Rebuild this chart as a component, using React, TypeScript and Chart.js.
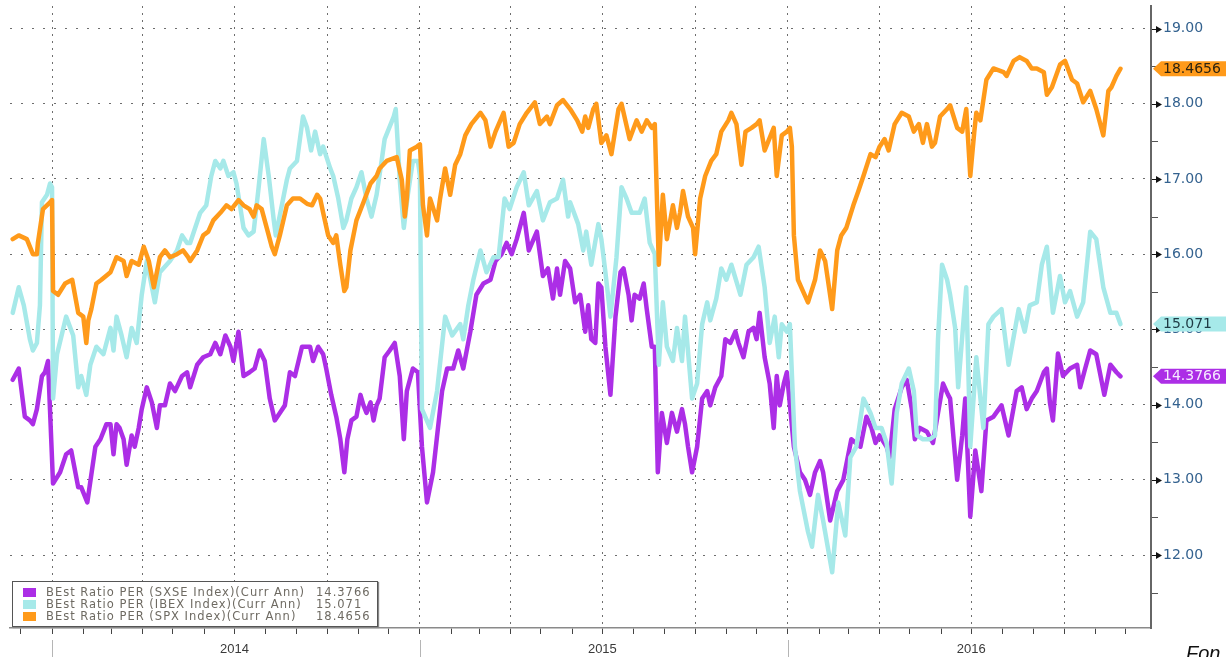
import React, { useEffect, useRef } from "react";
import { Chart, registerables } from "chart.js";

Chart.register(...registerables);

// ---- Data (x = days since 2014-01-01) ----
const spxDays = [
  -39, -33, -25, -19, -15, -14, -9, -2, 0, 1, 6, 13, 20, 26, 31, 34, 36, 39, 44, 49, 58, 64, 71, 74, 79, 86, 91, 96, 101, 107, 112, 117, 124, 130, 135,
  137, 144, 150, 155, 160, 167, 173, 178, 185, 190, 196, 200, 203, 208, 213, 218, 221, 226, 233, 239, 246, 253, 258, 263, 266, 269, 274, 279, 282, 286, 290, 292, 296, 302, 309, 316, 322,
  325, 332, 342, 347, 350, 352, 355, 362, 365, 368, 372, 375, 382, 385, 390, 395, 400, 405, 410, 416, 425, 430, 435, 440, 448, 453, 458, 464, 471, 479, 484, 491, 494, 501, 507,
  514, 521, 526, 529, 532, 537, 540, 545, 550, 555, 562, 565, 573, 580, 585, 590, 595, 598, 602, 606, 610, 616, 620, 623, 626, 631, 636, 638, 643, 648, 654, 659, 664, 671, 674, 679, 684, 688, 694, 699,
  702, 707, 716, 719, 724, 729, 732, 734, 736, 740, 745, 750, 757, 762, 767, 774, 779, 783, 788, 795, 800, 805, 812, 817, 821, 826, 830, 836, 843, 850, 855, 860, 864, 868, 873, 876, 881, 888,
  891, 898, 903, 907, 911, 915, 917, 921, 927, 934, 944, 947, 954, 960, 967, 972, 977, 984, 987, 992, 1000, 1005, 1012, 1017, 1023, 1030, 1036, 1043, 1048, 1051, 1056, 1060,
];
const spxValues = [
  16.2, 16.25, 16.2, 16.0, 16.0, 16.15, 16.6, 16.69, 16.72, 15.51, 15.46, 15.61, 15.66, 15.22, 15.17, 14.82, 15.12, 15.27, 15.61, 15.66, 15.76, 15.96, 15.91, 15.71, 15.91, 15.86, 16.1, 15.91, 15.56, 15.96, 16.05, 15.96, 16.0, 16.05, 15.96,
  15.91, 16.05, 16.25, 16.3, 16.45, 16.55, 16.65, 16.6, 16.72, 16.65, 16.6, 16.5, 16.65, 16.6, 16.35, 16.1, 16.0, 16.25, 16.65, 16.74, 16.74, 16.67, 16.65, 16.79, 16.74, 16.55, 16.25, 16.15, 16.25, 15.86, 15.51, 15.56, 16.05, 16.45, 16.69, 16.94, 17.04,
  17.14, 17.24, 17.29, 16.99, 16.5, 16.74, 17.38, 17.43, 17.46, 16.65, 16.25, 16.74, 16.45, 16.74, 17.14, 16.79, 17.19, 17.33, 17.58, 17.73, 17.88, 17.78, 17.43, 17.63, 17.88, 17.43, 17.48, 17.73, 17.88, 18.02, 17.73, 17.83, 17.73, 17.98, 18.05,
  17.93, 17.78, 17.63, 17.83, 17.68, 17.93, 18.0, 17.48, 17.58, 17.33, 17.93, 18.0, 17.53, 17.78, 17.63, 17.78, 17.68, 17.73, 15.86, 16.79, 16.2, 16.65, 16.35, 16.55, 16.84, 16.5, 16.35, 16.0, 16.74, 17.04, 17.24, 17.33, 17.63, 17.78, 17.88, 17.73, 17.19, 17.63, 17.68, 17.73,
  17.78, 17.38, 17.68, 17.04, 17.58, 17.63, 17.68, 17.43, 16.25, 15.66, 15.51, 15.36, 15.66, 16.05, 15.91, 15.27, 16.05, 16.25, 16.35, 16.65, 16.84, 17.04, 17.33, 17.29, 17.43, 17.53, 17.38, 17.73, 17.88, 17.83, 17.63, 17.73, 17.48, 17.73, 17.43, 17.48, 17.83, 17.93,
  17.98, 17.68, 17.63, 17.93, 17.04, 17.63, 17.88, 17.78, 18.32, 18.47, 18.42, 18.37, 18.57, 18.62, 18.57, 18.47, 18.47, 18.42, 18.12, 18.22, 18.52, 18.57, 18.32, 18.27, 18.02, 18.17, 17.93, 17.58, 18.17, 18.22, 18.37, 18.4656,
];

const ibexDays = [
  -39, -33, -28, -22, -19, -15, -12, -10, -5, -2, 0, 1, 5, 14, 21, 26, 29, 34, 38, 44, 51, 58, 61, 64, 69, 74, 79, 84, 89, 94, 102, 107, 117, 124, 129, 134,
  137, 147, 153, 158, 162, 167, 170, 175, 180, 183, 190, 195, 200, 205, 210, 215, 220, 222, 228, 233, 236, 243, 249, 253, 257, 261, 266, 269, 276, 279, 284, 289, 292, 297, 302, 307, 312, 317, 322, 327,
  330, 339, 341, 345, 349, 353, 358, 363, 365, 367, 375, 382, 390, 397, 405, 408, 413, 418, 425, 431, 438, 443, 449, 454, 461, 468, 473, 481, 487, 494, 501, 507, 512,
  514, 522, 527, 530, 535, 542, 545, 549, 554, 560, 565, 570, 575, 583, 588, 593, 598, 602, 606, 610, 616, 620, 625, 628, 635, 640, 645, 650, 653, 659, 664, 669, 674, 683, 689, 696, 701,
  707, 712, 717, 721, 724, 729, 732, 737, 742, 750, 754, 760, 765, 774, 780, 787, 792, 798, 805, 812, 817, 823, 828, 833, 838, 843, 850, 855, 858, 864, 871, 876, 879, 883, 888,
  891, 896, 899, 904, 907, 911, 917, 924, 929, 934, 942, 949, 959, 965, 970, 977, 982, 987, 993, 1000, 1005, 1010, 1017, 1023, 1030, 1036, 1043, 1050, 1056, 1060,
];
const ibexValues = [
  15.22, 15.56, 15.32, 14.87, 14.72, 14.82, 15.32, 16.69, 16.79, 16.94, 16.89, 14.08, 14.67, 15.17, 14.92, 14.23, 14.38, 14.13, 14.53, 14.77, 14.67, 15.02, 14.72, 15.17, 14.92, 14.63, 15.02, 14.82, 15.46, 15.91, 15.36, 15.76, 15.91, 16.05, 16.25, 16.15,
  16.15, 16.55, 16.65, 17.04, 17.24, 17.14, 17.24, 17.04, 17.09, 16.94, 16.35, 16.25, 16.3, 16.89, 17.53, 17.04, 16.45, 16.25, 16.65, 16.99, 17.14, 17.24, 17.83, 17.68, 17.38, 17.63, 17.33, 17.43, 17.14, 17.04, 16.74, 16.35, 16.45, 16.74, 16.89, 17.09, 16.74, 16.5, 16.79, 17.24,
  17.53, 17.83, 17.93, 16.99, 16.35, 16.79, 17.24, 17.24, 17.04, 13.94, 13.69, 14.18, 15.17, 14.92, 15.07, 14.87, 15.32, 15.66, 16.05, 15.76, 15.96, 15.96, 16.74, 16.6, 16.89, 17.09, 16.65, 16.84, 16.45, 16.69, 16.74, 16.99, 16.5,
  16.69, 16.4, 16.05, 16.3, 15.86, 16.4, 16.2, 15.76, 15.17, 15.96, 16.89, 16.74, 16.55, 16.55, 16.74, 16.15, 16.0, 14.53, 15.36, 14.77, 14.58, 15.02, 14.58, 15.17, 14.08, 14.28, 15.07, 15.36, 15.12, 15.41, 15.81, 15.66, 15.86, 15.46, 15.86, 15.96, 16.1,
  15.56, 14.82, 15.17, 14.63, 15.07, 14.97, 15.07, 13.44, 12.85, 12.31, 12.11, 12.8, 12.46, 11.77, 12.7, 12.26, 13.3, 13.44, 14.08, 13.89, 13.69, 13.69, 13.49, 12.95, 13.89, 14.28, 14.48, 14.18, 13.59, 13.54, 13.54, 13.59, 14.87, 15.86, 15.66,
  15.46, 15.02, 14.23, 15.07, 15.56, 13.44, 14.63, 13.69, 15.07, 15.17, 15.27, 14.53, 15.27, 14.97, 15.32, 15.36, 15.86, 16.1, 15.22, 15.71, 15.36, 15.51, 15.17, 15.36, 16.3, 16.2, 15.56, 15.22, 15.22, 15.071,
];

const sxseDays = [
  -39, -33, -27, -22, -19, -15, -10, -7, -4, 1, 8, 14, 19, 26, 29, 35, 43, 48, 54, 58, 61, 64, 67, 71, 74, 79, 82, 86, 89, 94, 99, 104, 107, 112, 117, 122, 129, 134,
  137, 144, 150, 157, 162, 167, 172, 177, 180, 185, 190, 196, 201, 206, 211, 216, 221, 226, 231, 236, 241, 248, 256, 259, 264, 269, 272, 277, 282, 286, 290, 293, 297, 302, 306, 309, 312, 316, 319, 322,
  325, 330, 335, 340, 345, 349, 352, 358, 363, 367, 372, 378, 387, 392, 398, 403, 408, 415, 421, 428, 435, 440, 446, 451, 456, 461, 468, 473, 481, 487, 492, 497, 501, 504, 509,
  514, 519, 524, 529, 532, 535, 539, 542, 545, 549, 554, 559, 564, 567, 572, 575, 578, 583, 587, 590, 595, 598, 601, 605, 610, 615, 620, 625, 628, 631, 635, 640, 645, 650, 653, 658, 664, 668, 673, 678, 681, 686, 691, 696, 699,
  702, 707, 712, 716, 719, 722, 726, 729, 736, 742, 747, 752, 757, 762, 765, 772, 779, 785, 793, 802, 808, 813, 817, 821, 828, 831, 836, 843, 848, 853, 856, 861, 868, 874, 879, 884, 889,
  891, 898, 903, 906, 911, 916, 922, 927, 934, 942, 949, 957, 962, 967, 972, 977, 984, 987, 990, 993, 998, 1003, 1010, 1017, 1020, 1025, 1030, 1036, 1044, 1050, 1056, 1060,
];
const sxseValues = [
  14.33, 14.48, 13.84, 13.79, 13.74, 13.94, 14.38, 14.43, 14.58, 12.95, 13.1, 13.34, 13.39, 12.9, 12.9, 12.7, 13.44, 13.54, 13.74, 13.74, 13.34, 13.74, 13.69, 13.54, 13.2, 13.59, 13.44, 13.69, 13.94, 14.23, 14.03, 13.69, 13.99, 13.99, 14.28, 14.18, 14.38, 14.43,
  14.23, 14.53, 14.63, 14.67, 14.82, 14.67, 14.92, 14.77, 14.58, 14.97, 14.38, 14.43, 14.48, 14.72, 14.58, 14.08, 13.79, 13.89, 13.99, 14.43, 14.38, 14.77, 14.77, 14.58, 14.77, 14.67, 14.48, 14.13, 13.84, 13.54, 13.1, 13.54, 13.79, 13.84, 14.13, 13.99, 13.89, 14.03, 13.79, 13.99,
  14.08, 14.63, 14.72, 14.82, 14.38, 13.54, 14.18, 14.48, 14.43, 13.44, 12.7, 13.1, 14.18, 14.48, 14.48, 14.72, 14.48, 14.97, 15.46, 15.61, 15.66, 15.91, 16.0, 16.15, 16.0, 16.2, 16.55, 16.05, 16.3, 15.71, 15.81, 15.41, 15.81, 15.46, 15.91,
  15.81, 15.36, 15.46, 14.97, 15.32, 14.87, 14.82, 15.61, 15.56, 14.77, 14.13, 15.17, 15.76, 15.81, 15.46, 15.12, 15.46, 15.41, 15.61, 15.27, 14.77, 14.77, 13.1, 13.89, 13.49, 13.89, 13.64, 13.94, 13.74, 13.44, 13.1, 13.44, 14.08, 14.18, 13.99, 14.23, 14.38, 14.87, 14.82, 14.97, 14.82, 14.63, 14.97, 15.02, 14.87,
  15.22, 14.63, 14.28, 13.69, 14.38, 13.99, 14.28, 14.43, 13.44, 13.1, 13.0, 12.8, 13.1, 13.25, 13.1, 12.46, 12.85, 13.0, 13.54, 13.44, 13.84, 13.69, 13.49, 13.59, 13.44, 13.3, 13.94, 14.23, 14.33, 13.94, 13.54, 13.69, 13.64, 13.49, 13.89, 14.28, 14.13,
  14.08, 13.0, 13.59, 14.08, 12.51, 13.39, 12.85, 13.79, 13.84, 13.99, 13.59, 14.18, 14.23, 13.94, 14.08, 14.18, 14.43, 14.48, 14.03, 13.79, 14.68, 14.38, 14.48, 14.53, 14.23, 14.48, 14.72, 14.67, 14.13, 14.53, 14.43, 14.3766,
];

const seriesNames = [
  "BEst Ratio PER (SXSE Index)(Curr Ann)",
  "BEst Ratio PER (IBEX Index)(Curr Ann)",
  "BEst Ratio PER (SPX Index)(Curr Ann)",
];
const lastLabels = ["14.3766", "15.071", "18.4656"];
const seriesColors = ["#AC2EE6", "#A6E9E9", "#FF9A1A"];
const tagTextColors = ["#F6EAFF", "#1E3A44", "#2E2410"];
const yearLabels = [2014, 2015, 2016];
const yTickValues = [11.5, 12, 12.5, 13, 13.5, 14, 14.5, 15, 15.5, 16, 16.5, 17, 17.5, 18, 18.5, 19];
const sourceText = "Fon";

const X_MIN = -41.7;
const X_MAX = 1090.3;
const Y_MIN = 11.03;
const Y_MAX = 19.3;

const BASE = Date.UTC(2014, 0, 1);
const dayOf = (y: number, m: number, d: number) => Math.round((Date.UTC(y, m, d) - BASE) / 864e5);
const dateOf = (v: number) => new Date(BASE + Math.round(v) * 864e5);

const monthTicks: number[] = [];
for (let y = 2013; y <= 2016; y++) {
  for (let m = 0; m < 12; m++) {
    const d = dayOf(y, m, 1);
    if (d >= X_MIN && d <= X_MAX) monthTicks.push(d);
  }
}

const toPoints = (days: number[], vals: number[]) =>
  days.map((d, i) => ({ x: d, y: vals[i] })).filter((p) => p.y !== undefined);

const decorPlugin = {
  id: "decor",
  afterDraw(chart: any) {
    const { ctx, chartArea, scales } = chart;
    const xs = scales.x;
    const ys = scales.y;
    ctx.save();
    // year separators below axis
    ctx.strokeStyle = "#b5b5b5";
    ctx.lineWidth = 1;
    for (const yr of yearLabels) {
      const px = Math.round(xs.getPixelForValue(dayOf(yr, 0, 1))) + 0.5;
      ctx.beginPath();
      ctx.moveTo(px, chartArea.bottom + 12);
      ctx.lineTo(px, chart.height);
      ctx.stroke();
    }
    // y tick markers
    const ax = chartArea.right + 1;
    for (const v of yTickValues) {
      const py = Math.round(ys.getPixelForValue(v)) + 0.5;
      if (Number.isInteger(v)) {
        ctx.strokeStyle = "#111";
        ctx.lineWidth = 1;
        ctx.beginPath();
        ctx.moveTo(ax, py);
        ctx.lineTo(ax + 5, py);
        ctx.stroke();
        ctx.fillStyle = "#111";
        ctx.beginPath();
        ctx.moveTo(ax + 4, py - 3.5);
        ctx.lineTo(ax + 10, py);
        ctx.lineTo(ax + 4, py + 3.5);
        ctx.closePath();
        ctx.fill();
      } else {
        ctx.strokeStyle = "#555";
        ctx.lineWidth = 1;
        ctx.beginPath();
        ctx.moveTo(ax, py);
        ctx.lineTo(ax + 6, py);
        ctx.stroke();
      }
    }
    // last value tags
    const lastVals = [sxseValues[sxseValues.length - 1], ibexValues[ibexValues.length - 1], spxValues[spxValues.length - 1]];
    ctx.font = "14px 'DejaVu Sans'";
    ctx.textBaseline = "middle";
    ctx.textAlign = "left";
    lastVals.forEach((v, i) => {
      const py = ys.getPixelForValue(v);
      const h = 7.5;
      ctx.fillStyle = seriesColors[i];
      ctx.beginPath();
      ctx.moveTo(ax + 1, py);
      ctx.lineTo(ax + 9, py - h);
      ctx.lineTo(chart.width, py - h);
      ctx.lineTo(chart.width, py + h);
      ctx.lineTo(ax + 9, py + h);
      ctx.closePath();
      ctx.fill();
      ctx.fillStyle = tagTextColors[i];
      ctx.fillText(lastLabels[i], ax + 11, py + 0.5);
    });
    ctx.restore();
  },
};

export default function App() {
  const canvasRef = useRef<HTMLCanvasElement | null>(null);

  useEffect(() => {
    if (!canvasRef.current) return;
    const chart = new Chart(canvasRef.current, {
      type: "line",
      data: {
        datasets: [
          { label: seriesNames[2], data: toPoints(spxDays, spxValues), borderColor: seriesColors[2], order: 0 },
          { label: seriesNames[1], data: toPoints(ibexDays, ibexValues), borderColor: seriesColors[1], order: 1 },
          { label: seriesNames[0], data: toPoints(sxseDays, sxseValues), borderColor: seriesColors[0], order: 2 },
        ] as any,
      },
      options: {
        responsive: true,
        maintainAspectRatio: false,
        animation: false,
        layout: { padding: { left: 10, top: 6, right: 0, bottom: 0 } },
        elements: {
          point: { radius: 0, hoverRadius: 0 },
          line: { tension: 0, borderWidth: 4.5, borderJoinStyle: "round", borderCapStyle: "round", fill: false },
        },
        plugins: { legend: { display: false }, tooltip: { enabled: false } },
        scales: {
          x: {
            type: "linear",
            min: X_MIN,
            max: X_MAX,
            afterBuildTicks: (s: any) => {
              s.ticks = monthTicks.map((v) => ({ value: v }));
            },
            afterFit: (s: any) => {
              s.height = 29;
              s.paddingLeft = 0;
              s.paddingRight = 0;
              s.paddingTop = 0;
              s.paddingBottom = 0;
            },
            ticks: {
              autoSkip: false,
              maxRotation: 0,
              minRotation: 0,
              padding: 8,
              color: "#3a3a3a",
              font: { family: "'Liberation Sans'", size: 13 },
              callback: (v: any) => {
                const d = dateOf(Number(v));
                return d.getUTCMonth() === 6 ? String(d.getUTCFullYear()) : "";
              },
            },
            grid: {
              color: (c: any) => {
                if (!c.tick) return "rgba(0,0,0,0)";
                const m = dateOf(c.tick.value).getUTCMonth();
                return m % 3 === 0 ? "#6e6e6e" : "rgba(0,0,0,0)";
              },
              lineWidth: 1,
              tickColor: "#444",
              tickLength: 6,
              tickWidth: 1,
            },
            border: { display: true, color: "#8a8a8a", width: 1.5, dash: [2, 5] },
          },
          y: {
            type: "linear",
            position: "right",
            min: Y_MIN,
            max: Y_MAX,
            afterBuildTicks: (s: any) => {
              s.ticks = yTickValues.map((v) => ({ value: v }));
            },
            afterFit: (s: any) => {
              s.width = 75;
              s.paddingTop = 0;
              s.paddingBottom = 0;
              s.paddingLeft = 0;
              s.paddingRight = 0;
            },
            ticks: {
              padding: 12,
              color: "#34628f",
              font: { family: "'DejaVu Sans'", size: 14 },
              callback: (v: any) => (Number.isInteger(Number(v)) ? Number(v).toFixed(2) : ""),
            },
            grid: {
              drawTicks: false,
              color: (c: any) => {
                if (!c.tick) return "rgba(0,0,0,0)";
                return Number.isInteger(c.tick.value) ? "#6e6e6e" : "rgba(0,0,0,0)";
              },
              lineWidth: 1,
            },
            border: { display: true, color: "#666", width: 2, dash: [2, 9] },
          },
        },
      } as any,
      plugins: [decorPlugin],
    });
    return () => chart.destroy();
  }, []);

  const legendRows = [0, 1, 2];

  return (
    <div
      style={{
        position: "absolute",
        left: 0,
        top: 0,
        width: 1226,
        height: 657,
        overflow: "hidden",
        background: "#fff",
      }}
    >
      <canvas ref={canvasRef} style={{ display: "block" }} />
      <div
        style={{
          position: "absolute",
          left: 12,
          top: 581,
          width: 364,
          height: 44,
          border: "1px solid #555",
          boxShadow: "1px 1px 1px #888",
          background: "#fff",
          fontFamily: "'DejaVu Sans'",
          fontSize: 11.5,
          letterSpacing: "1px",
          color: "#6e6a62",
        }}
      >
        {legendRows.map((i) => (
          <div key={i} style={{ position: "absolute", left: 0, top: 4 + i * 12, height: 12, width: 364 }}>
            <div
              style={{
                position: "absolute",
                left: 10,
                top: 2,
                width: 13,
                height: 9,
                background: seriesColors[i],
              }}
            />
            <div style={{ position: "absolute", left: 33, top: 0, lineHeight: "12px", whiteSpace: "nowrap" }}>
              {seriesNames[i]}
            </div>
            <div style={{ position: "absolute", left: 303, top: 0, lineHeight: "12px", whiteSpace: "nowrap" }}>
              {lastLabels[i]}
            </div>
          </div>
        ))}
      </div>
      <div
        style={{
          position: "absolute",
          left: 1186,
          top: 643,
          fontFamily: "'Liberation Sans'",
          fontStyle: "italic",
          fontSize: 20,
          lineHeight: "20px",
          color: "#111",
          whiteSpace: "nowrap",
        }}
      >
        {sourceText}
      </div>
    </div>
  );
}
